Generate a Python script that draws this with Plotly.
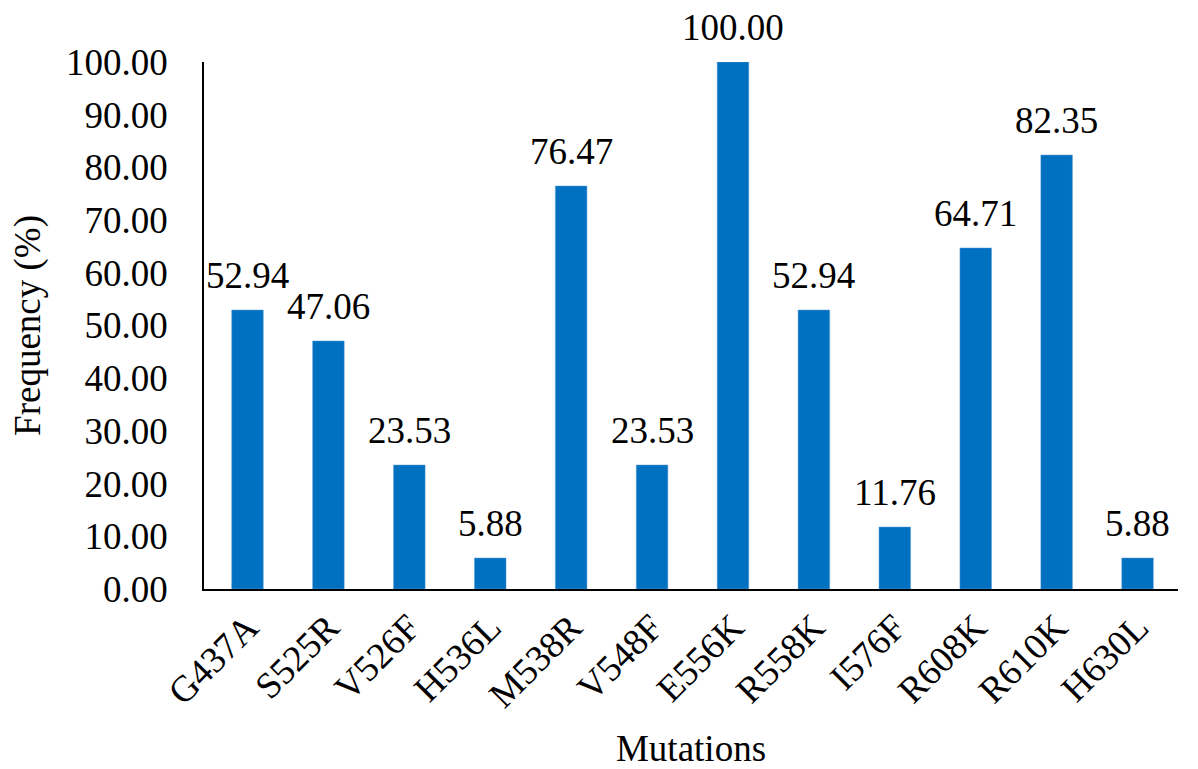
import plotly.graph_objects as go

mutations = ["G437A", "S525R", "V526F", "H536L", "M538R", "V548F",
             "E556K", "R558K", "I576F", "R608K", "R610K", "H630L"]
frequency = [52.94, 47.06, 23.53, 5.88, 76.47, 23.53,
             100.00, 52.94, 11.76, 64.71, 82.35, 5.88]
y_ticks = [0, 10, 20, 30, 40, 50, 60, 70, 80, 90, 100]

FONT = "Liberation Serif, Times New Roman, serif"
FS = 37

fig = go.Figure(go.Bar(
    x=mutations, y=frequency,
    marker=dict(color="#0070C0", line=dict(color="#5B9BD5", width=0.5)),
    cliponaxis=False,
    width=0.39,
))

for m, v in zip(mutations, frequency):
    fig.add_annotation(
        x=m, y=v, text=f"{v:.2f}", showarrow=False,
        xanchor="center", yanchor="bottom", yshift=12,
        font=dict(family=FONT, size=FS, color="black"),
    )

fig.update_layout(
    width=1198, height=769,
    margin=dict(l=204, r=20, t=62, b=180),
    paper_bgcolor="white", plot_bgcolor="white",
    font=dict(family=FONT, size=FS, color="black"),
    showlegend=False,
)
fig.update_xaxes(
    automargin=False,
    showline=True, linecolor="black", linewidth=1.5,
    tickangle=-45, showgrid=False, ticks="",
    tickfont=dict(family=FONT, size=FS),
    title=dict(text="Mutations", font=dict(family=FONT, size=FS), standoff=21),
)
fig.update_yaxes(
    automargin=False,
    range=[0, 100], tickvals=y_ticks,
    ticktext=[f"{v:.2f}" for v in y_ticks],
    showline=True, linecolor="black", linewidth=1.5,
    showgrid=False, zeroline=False, ticks="",
    ticklabelstandoff=27,
    tickfont=dict(family=FONT, size=FS),
    title=dict(text="Frequency (%)", font=dict(family=FONT, size=FS), standoff=14),
)

fig.write_html("out.html")
